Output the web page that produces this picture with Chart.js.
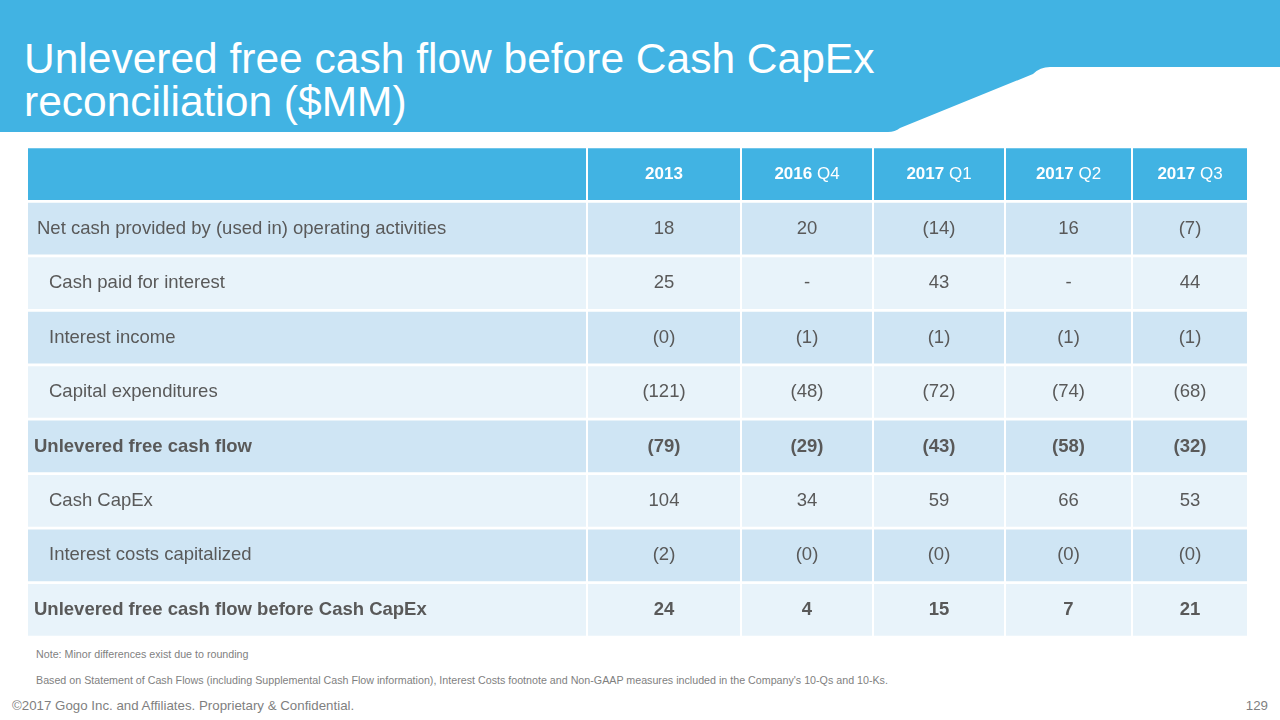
<!DOCTYPE html>
<html>
<head>
<meta charset="utf-8">
<script src="https://cdn.jsdelivr.net/npm/chart.js@4.4.1/dist/chart.umd.min.js"></script>
<style>
  html, body { margin: 0; padding: 0; background: #fff; }
  body { width: 1280px; height: 720px; position: relative; overflow: hidden; font-family: "Liberation Sans", Arial, sans-serif; }
  #band { position: absolute; left: 0; top: 0; }
  #title { position: absolute; left: 24px; top: 37px; color: #fff; font-size: 42.5px; line-height: 43px; }
  #wrap { position: absolute; left: 27px; top: 147px; width: 1221px; height: 490px; }
  .note { position: absolute; left: 36px; font-size: 10.7px; color: #7f7f7f; }
  #foot { position: absolute; left: 12px; top: 698px; font-size: 13.3px; color: #7f7f7f; }
  #page { position: absolute; right: 12px; top: 698px; font-size: 13.3px; color: #7f7f7f; }
</style>
</head>
<body>
<svg id="band" width="1280" height="140">
  <path d="M0,0 L1280,0 L1280,67 L1050,67 Q1040,67 1033,74 L900,128 Q895,132 888,132 L0,132 Z" fill="#41b3e3"/>
</svg>
<div id="title">Unlevered free cash flow before Cash CapEx<br>reconciliation ($MM)</div>
<div id="wrap"><canvas id="tbl"></canvas></div>
<div class="note" style="top:648px">Note: Minor differences exist due to rounding</div>
<div class="note" style="top:674px">Based on Statement of Cash Flows (including Supplemental Cash Flow information), Interest Costs footnote and Non-GAAP measures included in the Company's 10-Qs and 10-Ks.</div>
<div id="foot">©2017 Gogo Inc. and Affiliates. Proprietary &amp; Confidential.</div>
<div id="page">129</div>
<script>
// 表头（年份加粗，季度常规）
const periods = ['2013', '2016 Q4', '2017 Q1', '2017 Q2', '2017 Q3'];

// 行标题
const rowLabels = [
    'Net cash provided by (used in) operating activities',
    'Cash paid for interest',
    'Interest income',
    'Capital expenditures',
    'Unlevered free cash flow',
    'Cash CapEx',
    'Interest costs capitalized',
    'Unlevered free cash flow before Cash CapEx'
];

// 各行数值（null 表示 "-"，-0 表示 "(0)"）
const netCashOps       = [18, 20, -14, 16, -7];
const cashInterest     = [25, null, 43, null, 44];
const interestIncome   = [-0, -1, -1, -1, -1];
const capex            = [-121, -48, -72, -74, -68];
const unleveredFcf     = [-79, -29, -43, -58, -32];
const cashCapex        = [104, 34, 59, 66, 53];
const interestCapital  = [-2, -0, -0, -0, -0];
const fcfBeforeCapex   = [24, 4, 15, 7, 21];

const rowValues = [netCashOps, cashInterest, interestIncome, capex,
                   unleveredFcf, cashCapex, interestCapital, fcfBeforeCapex];

// 布局：列边界（像素刻度）、加粗行、缩进
const colEdges = [0, 560, 714, 846, 978, 1105, 1221];
const boldRows = [4, 7];
const indents = [9, 21, 21, 21, 6, 21, 21, 6];

const COLOR_HEAD = '#41b3e3';
const COLOR_DARK = '#cfe5f4';
const COLOR_LIGHT = '#e8f3fa';
const TEXT_COLOR = '#595959';
const FONT = '"Liberation Sans", Arial, sans-serif';

function fmt(v) {
    if (v === null) return '-';
    if (v < 0 || Object.is(v, -0)) return '(' + Math.abs(v) + ')';
    return String(v);
}

const yLabels = ['header'].concat(rowLabels);
const rowColors = yLabels.map((_, i) => i === 0 ? COLOR_HEAD : (i % 2 === 1 ? COLOR_DARK : COLOR_LIGHT));

const datasets = [];
for (let c = 0; c < colEdges.length - 1; c++) {
    datasets.push({
        data: yLabels.map(() => [colEdges[c] + 1, colEdges[c + 1] - 1]),
        backgroundColor: rowColors,
        borderWidth: 0,
        grouped: false,
        barPercentage: 0.95,
        categoryPercentage: 1
    });
}

// 在每个单元格中绘制文字
const cellText = {
    id: 'cellText',
    afterDatasetsDraw(chart) {
        const ctx = chart.ctx;
        ctx.save();
        ctx.textBaseline = 'middle';
        chart.data.datasets.forEach((ds, c) => {
            const meta = chart.getDatasetMeta(c);
            meta.data.forEach((bar, r) => {
                const left = Math.min(bar.x, bar.base);
                const right = Math.max(bar.x, bar.base);
                const cx = (left + right) / 2;
                const cy = bar.y;
                if (r === 0) {
                    if (c === 0) return;
                    const parts = periods[c - 1].split(' ');
                    ctx.fillStyle = '#ffffff';
                    ctx.font = 'bold 17px ' + FONT;
                    const w1 = ctx.measureText(parts[0]).width;
                    let w2 = 0, sp = 0;
                    if (parts[1]) {
                        ctx.font = '17px ' + FONT;
                        w2 = ctx.measureText(parts[1]).width;
                        sp = ctx.measureText(' ').width;
                    }
                    const x = cx - (w1 + sp + w2) / 2;
                    ctx.textAlign = 'left';
                    ctx.font = 'bold 17px ' + FONT;
                    ctx.fillText(parts[0], x, cy);
                    if (parts[1]) {
                        ctx.font = '17px ' + FONT;
                        ctx.fillText(parts[1], x + w1 + sp, cy);
                    }
                    return;
                }
                const ri = r - 1;
                const bold = boldRows.includes(ri);
                ctx.fillStyle = TEXT_COLOR;
                ctx.font = (bold ? 'bold ' : '') + '18.5px ' + FONT;
                if (c === 0) {
                    ctx.textAlign = 'left';
                    ctx.fillText(rowLabels[ri], left + indents[ri], cy);
                } else {
                    ctx.textAlign = 'center';
                    ctx.fillText(fmt(rowValues[ri][c - 1]), cx, cy);
                }
            });
        });
        ctx.restore();
    }
};

new Chart(document.getElementById('tbl'), {
    type: 'bar',
    data: { labels: yLabels, datasets: datasets },
    options: {
        indexAxis: 'y',
        responsive: true,
        maintainAspectRatio: false,
        animation: false,
        layout: { padding: 0 },
        plugins: { legend: { display: false }, tooltip: { enabled: false } },
        scales: {
            x: { type: 'linear', min: 0, max: 1221, display: false },
            y: { type: 'category', display: false, offset: true }
        }
    },
    plugins: [cellText]
});
</script>
</body>
</html>
